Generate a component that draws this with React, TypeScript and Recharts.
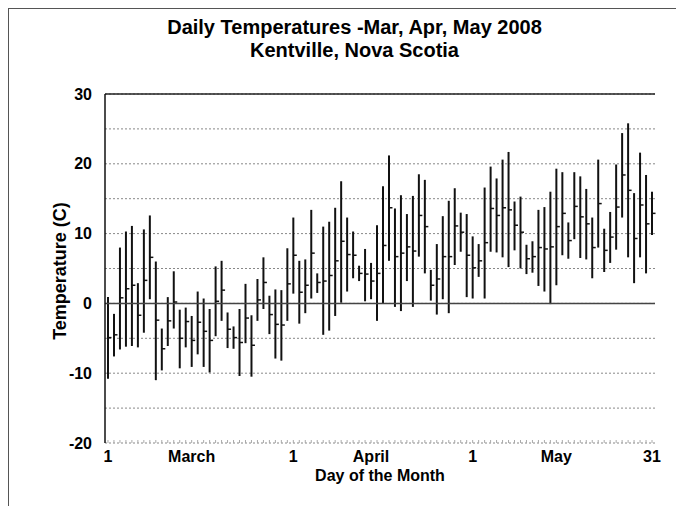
import React from 'react';
import { ComposedChart, Bar, Line, XAxis, YAxis, CartesianGrid, ReferenceLine } from 'recharts';

// days of Mar, Apr, May 2008
const months = ['Mar', 'Apr', 'May'];
const monthLengths = [31, 30, 31];
const days = months.flatMap((m, i) =>
  Array.from({ length: monthLengths[i] }, (_, d) => `${m} ${d + 1}`)
);

const highs = [
  0.9, -1.5, 8.0, 10.3, 11.1, 2.9, 10.6, 12.6, 6.0, -3.6,
  0.9, 4.6, -0.9, -0.6, -1.8, 1.7, 0.7, -0.8, 5.3, 6.1,
  -1.3, -3.3, -0.8, 2.8, -1.7, 3.5, 6.6, 1.1, 2.0, 1.9,
  7.9, 12.3, 6.1, 6.3, 13.4, 4.3, 11.0, 11.7, 13.7, 17.5,
  12.3, 10.3, 5.4, 7.8, 5.8, 11.2, 16.8, 21.2, 13.6, 15.5,
  12.8, 15.4, 18.5, 17.7, 4.8, 8.5, 12.5, 14.7, 16.5, 13.0,
  12.8, 9.6, 8.5, 16.6, 19.6, 17.9, 20.6, 21.7, 14.6, 15.3,
  8.4, 8.9, 13.4, 13.8, 16.0, 19.3, 18.8, 11.6, 18.8, 18.2,
  16.4, 12.3, 20.6, 10.7, 13.1, 19.9, 24.4, 25.8, 15.8, 21.6,
  18.4, 16.0,
];

const lows = [
  -10.8, -7.6, -6.6, -6.2, -6.1, -6.3, -4.2, 0.6, -11.0, -9.6,
  -6.1, -3.6, -9.3, -6.3, -9.1, -7.3, -9.1, -9.9, -4.7, -2.5,
  -6.4, -6.5, -10.4, -5.7, -10.5, -2.5, -0.8, -4.4, -7.9, -8.2,
  -2.5, 1.4, -2.9, -1.4, 0.7, 1.5, -4.5, -3.9, -1.8, 0.1,
  1.7, 3.6, 3.2, 0.3, 0.6, -2.5, -0.1, 6.1, -0.5, -1.1,
  3.2, -0.5, 6.7, 4.3, 0.4, -1.6, 0.6, -1.4, 5.5, 7.4,
  0.9, 0.7, 3.8, 0.7, 7.4, 7.3, 6.6, 5.2, 7.6, 5.0,
  4.2, 4.4, 2.5, 1.7, -0.1, 2.6, 6.9, 6.4, 9.2, 6.5,
  6.3, 3.6, 8.0, 4.5, 5.8, 7.7, 12.3, 6.6, 2.9, 6.6,
  4.3, 9.8,
];

const means = [
  -4.9, -4.5, 0.8, 2.1, 2.6, -1.7, 3.3, 6.6, -2.4, -6.5,
  -2.5, 0.2, -5.0, -2.6, -5.3, -2.7, -4.0, -5.3, 0.3, 1.9,
  -3.7, -4.9, -5.6, -2.1, -6.0, 0.5, 3.0, -1.6, -3.0, -3.1,
  2.8, 6.9, 1.6, 2.6, 7.2, 3.0, 3.2, 4.0, 6.1, 8.9,
  7.0, 6.9, 4.3, 4.2, 3.2, 4.3, 8.3, 13.7, 6.7, 7.2,
  8.1, 7.5, 12.6, 11.0, 2.6, 3.5, 6.7, 6.7, 11.1, 10.2,
  6.9, 5.1, 6.1, 8.7, 13.6, 12.6, 13.7, 13.4, 11.2, 10.2,
  6.4, 6.7, 8.0, 7.8, 8.1, 11.0, 12.9, 9.0, 13.9, 12.4,
  11.4, 8.0, 14.3, 7.6, 9.5, 13.8, 18.4, 16.2, 9.3, 14.1,
  11.4, 12.9,
];

const yTicks = [-20, -15, -10, -5, 0, 5, 10, 15, 20, 25, 30];
const yLabelTicks = [-20, -10, 0, 10, 20, 30];
const xTickDays = ['Mar 1', 'Mar 15', 'Apr 1', 'Apr 14', 'May 1', 'May 15', 'May 31'];
const xTickText = ['1', 'March', '1', 'April', '1', 'May', '31'];

const data = days.map((day, i) => ({ day, range: [lows[i], highs[i]], mean: means[i] }));

const FONT = '"Liberation Sans", Arial, sans-serif';

const HiLo = (props: any) => {
  const { x, y, width, height } = props;
  const cx = x + width / 2;
  const top = Math.min(y, y + height);
  const bottom = Math.max(y, y + height);
  return <line x1={cx} x2={cx} y1={top} y2={bottom} stroke="#111" strokeWidth={2} />;
};

const MeanTick = (props: any) => {
  const { cx, cy, index } = props;
  if (cx == null || cy == null) return <g key={`m-${index}`} />;
  return <line key={`m-${index}`} x1={cx} x2={cx + 3.5} y1={cy} y2={cy} stroke="#111" strokeWidth={1.5} />;
};

// every day gets a tiny tick, only some get a label
const DayTick = (props: any) => {
  const { x, y, payload } = props;
  const idx = xTickDays.indexOf(payload.value);
  return (
    <g>
      <line x1={x} x2={x} y1={y - 8} y2={y - 11} stroke="#aaa" />
      {idx >= 0 && (
        <text x={x} y={y} dy="0.71em" textAnchor="middle" fontFamily={FONT} fontWeight="bold" fontSize={16} fill="#000">
          {xTickText[idx]}
        </text>
      )}
    </g>
  );
};

export default function App() {
  return (
    <div style={{ position: 'relative', width: 667, height: 497, borderTop: '1px solid #555', borderLeft: '1px solid #555' }}>
      <ComposedChart width={660} height={490} data={data} margin={{ top: 85, right: 14, left: 36, bottom: 26 }} barCategoryGap={0}>
        <CartesianGrid vertical={false} stroke="#888" strokeDasharray="2 2" />
        <XAxis dataKey="day" interval={0} tick={<DayTick />} tickLine={false} tickSize={0} tickMargin={8} axisLine={false} height={30} />
        <YAxis
          domain={[-20, 30]}
          ticks={yTicks}
          tickFormatter={(v: number) => (yLabelTicks.includes(v) ? String(v) : '')}
          width={60}
          tickLine={false}
          tickSize={0}
          tickMargin={13}
          axisLine={{ stroke: '#111', strokeWidth: 1.5 }}
          tick={{ fontFamily: FONT, fontWeight: 'bold', fontSize: 16, fill: '#000' }}
        />
        <YAxis yAxisId="r" orientation="right" domain={[-20, 30]} tick={false} tickLine={false} width={0} axisLine={{ stroke: '#555' }} />
        <ReferenceLine y={30} stroke="#222" strokeWidth={1.5} />
        <ReferenceLine y={0} stroke="#444" strokeWidth={1.5} />
        <Bar dataKey="range" shape={<HiLo />} isAnimationActive={false} />
        <Line dataKey="mean" stroke="none" dot={MeanTick} activeDot={false} isAnimationActive={false} />
      </ComposedChart>
      <svg width={660} height={490} style={{ position: 'absolute', left: 0, top: 0, pointerEvents: 'none' }} fontFamily={FONT} fontWeight="bold">
        <text x={345.5} y={24.5} textAnchor="middle" fontSize={20}>Daily Temperatures -Mar, Apr, May 2008</text>
        <text x={345.5} y={47.5} textAnchor="middle" fontSize={20}>Kentville, Nova Scotia</text>
        <text x={0} y={0} dy="0.35em" textAnchor="middle" fontSize={18} transform="translate(51 262) rotate(-90)">Temperature (C)</text>
        <text x={371} y={466} dy="0.35em" textAnchor="middle" fontSize={16}>Day of the Month</text>
      </svg>
    </div>
  );
}
